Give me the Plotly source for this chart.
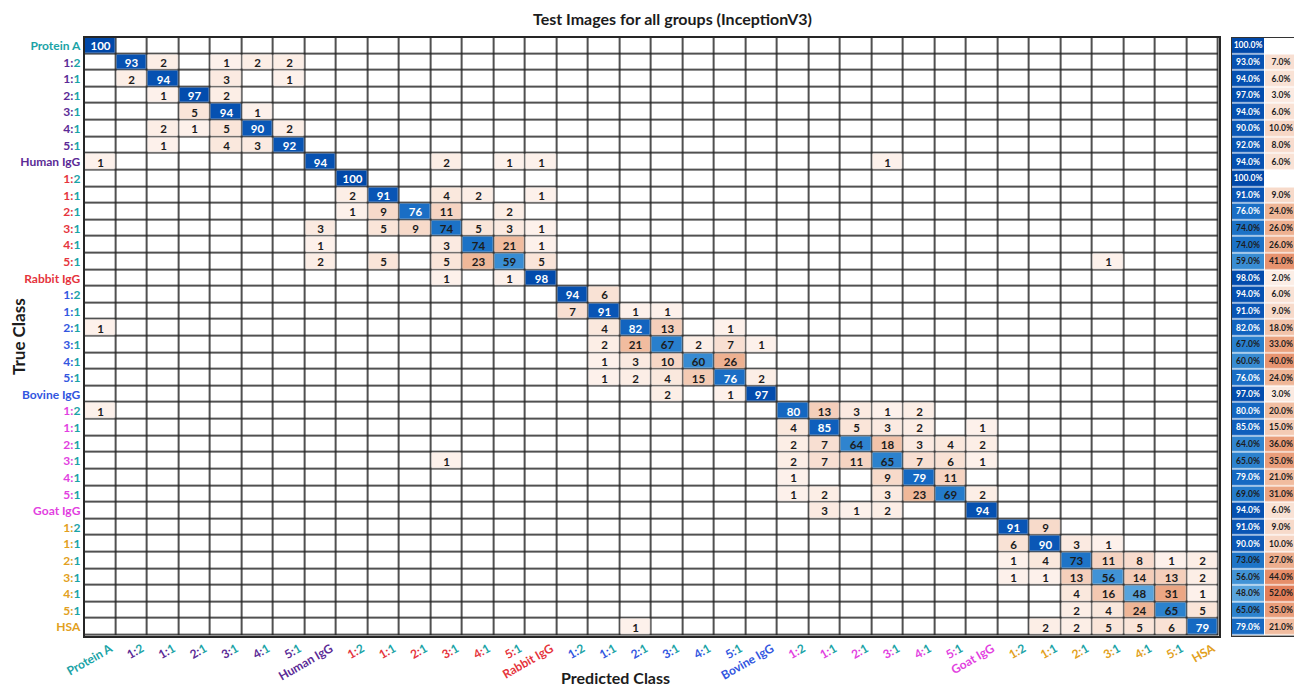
import numpy as np
import plotly.graph_objects as go

# ---------------- data ----------------
groups = ["Protein A", "Human IgG", "Rabbit IgG", "Bovine IgG", "Goat IgG", "HSA"]
group_colors = ["#1AA3A6", "#5B2A96", "#E5343C", "#3256E0", "#E23FE0", "#E2A020"]
ratios = ["1:2", "1:1", "2:1", "3:1", "4:1", "5:1"]

# confusion matrix rows (true class) as (predicted column, count) pairs
row_entries = [
    [(0, 100)],
    [(1, 93), (2, 2), (4, 1), (5, 2), (6, 2)],
    [(1, 2), (2, 94), (4, 3), (6, 1)],
    [(2, 1), (3, 97), (4, 2)],
    [(3, 5), (4, 94), (5, 1)],
    [(2, 2), (3, 1), (4, 5), (5, 90), (6, 2)],
    [(2, 1), (4, 4), (5, 3), (6, 92)],
    [(0, 1), (7, 94), (11, 2), (13, 1), (14, 1), (25, 1)],
    [(8, 100)],
    [(8, 2), (9, 91), (11, 4), (12, 2), (14, 1)],
    [(8, 1), (9, 9), (10, 76), (11, 11), (13, 2)],
    [(7, 3), (9, 5), (10, 9), (11, 74), (12, 5), (13, 3), (14, 1)],
    [(7, 1), (11, 3), (12, 74), (13, 21), (14, 1)],
    [(7, 2), (9, 5), (11, 5), (12, 23), (13, 59), (14, 5), (32, 1)],
    [(11, 1), (13, 1), (14, 98)],
    [(15, 94), (16, 6)],
    [(15, 7), (16, 91), (17, 1), (18, 1)],
    [(0, 1), (16, 4), (17, 82), (18, 13), (20, 1)],
    [(16, 2), (17, 21), (18, 67), (19, 2), (20, 7), (21, 1)],
    [(16, 1), (17, 3), (18, 10), (19, 60), (20, 26)],
    [(16, 1), (17, 2), (18, 4), (19, 15), (20, 76), (21, 2)],
    [(18, 2), (20, 1), (21, 97)],
    [(0, 1), (22, 80), (23, 13), (24, 3), (25, 1), (26, 2)],
    [(22, 4), (23, 85), (24, 5), (25, 3), (26, 2), (28, 1)],
    [(22, 2), (23, 7), (24, 64), (25, 18), (26, 3), (27, 4), (28, 2)],
    [(11, 1), (22, 2), (23, 7), (24, 11), (25, 65), (26, 7), (27, 6), (28, 1)],
    [(22, 1), (25, 9), (26, 79), (27, 11)],
    [(22, 1), (23, 2), (25, 3), (26, 23), (27, 69), (28, 2)],
    [(23, 3), (24, 1), (25, 2), (28, 94)],
    [(29, 91), (30, 9)],
    [(29, 6), (30, 90), (31, 3), (32, 1)],
    [(29, 1), (30, 4), (31, 73), (32, 11), (33, 8), (34, 1), (35, 2)],
    [(29, 1), (30, 1), (31, 13), (32, 56), (33, 14), (34, 13), (35, 2)],
    [(31, 4), (32, 16), (33, 48), (34, 31), (35, 1)],
    [(31, 2), (32, 4), (33, 24), (34, 65), (35, 5)],
    [(17, 1), (30, 2), (31, 2), (32, 5), (33, 5), (34, 6), (35, 79)],
]

recall_pct = [100, 93, 94, 97, 94, 90, 92, 94, 100, 91, 76, 74, 74, 59, 98, 94, 91, 82,
              67, 60, 76, 97, 80, 85, 64, 65, 79, 69, 94, 91, 90, 73, 56, 48, 65, 79]
error_pct = [None, 7, 6, 3, 6, 10, 8, 6, None, 9, 24, 26, 26, 41, 2, 6, 9, 18,
             33, 40, 24, 3, 20, 15, 36, 35, 21, 31, 6, 9, 10, 27, 44, 52, 35, 21]

# ---------------- labels ----------------
TEAL = group_colors[0]


def span(txt, col):
    return f'<span style="color:{col}">{txt}</span>'


labels = [span(groups[0], group_colors[0])]
for gi in range(1, len(groups)):
    gcol = group_colors[gi]
    for r in ratios:
        a, b = r.split(":")
        labels.append(span(a + ":", gcol) + span(b, TEAL))
    labels.append(span(groups[gi], gcol))

n = len(labels)
M = np.zeros((n, n))
for i, ents in enumerate(row_entries):
    for j, v in ents:
        M[i, j] = v

idx = list(range(n))
WHITE_TXT = 75

off = np.full((n, n), np.nan)
off_t = np.full((n, n), "", dtype=object)
dhi = np.full((n, n), np.nan)
dhi_t = np.full((n, n), "", dtype=object)
dlo = np.full((n, n), np.nan)
dlo_t = np.full((n, n), "", dtype=object)
for i in range(n):
    for j in range(n):
        v = M[i, j]
        if v <= 0:
            continue
        if i == j:
            if v >= WHITE_TXT:
                dhi[i, j] = v
                dhi_t[i, j] = f"{int(v)}"
            else:
                dlo[i, j] = v
                dlo_t[i, j] = f"{int(v)}"
        else:
            off[i, j] = v
            off_t[i, j] = f"{int(v)}"

blue_scale = [[0.0, "#74B6E6"], [0.133, "#58A3DC"], [0.3, "#3B8FD4"], [0.5, "#2279CA"],
              [0.667, "#1467C1"], [0.833, "#0A57B6"], [1.0, "#0048A9"]]
orange_scale = [[0.0, "#FEF5F0"], [0.05, "#FBEBE2"], [0.2, "#F6D4C2"], [0.4, "#F0BA9C"],
                [0.6, "#EAA27F"], [0.8, "#E68E69"], [1.0, "#E07A55"]]

FONT = "Lato, 'Open Sans', sans-serif"
DARK = "#1c1c1c"
GAP = 1.6
CELL_FS = 11.5

fig = go.Figure()

# base white grid (gaps show the dark plot background -> grid lines)
fig.add_trace(go.Heatmap(x=idx, y=idx, z=np.zeros((n, n)), colorscale=[[0, "white"], [1, "white"]],
                         showscale=False, xgap=GAP, ygap=GAP, hoverinfo="skip"))
fig.add_trace(go.Heatmap(x=idx, y=idx, z=off, text=off_t, texttemplate="<b>%{text}</b>",
                         textfont=dict(family=FONT, size=CELL_FS, color=DARK),
                         colorscale=orange_scale, zmin=0, zmax=55, showscale=False,
                         xgap=GAP, ygap=GAP, hoverongaps=False))
for zz, tt, col in [(dhi, dhi_t, "white"), (dlo, dlo_t, DARK)]:
    fig.add_trace(go.Heatmap(x=idx, y=idx, z=zz, text=tt, texttemplate="<b>%{text}</b>",
                             textfont=dict(family=FONT, size=CELL_FS, color=col),
                             colorscale=blue_scale, zmin=40, zmax=100, showscale=False,
                             xgap=GAP, ygap=GAP, hoverongaps=False))

# right panel: recall and error percentages
rz_hi = np.full((n, 2), np.nan)
rt_hi = np.full((n, 2), "", dtype=object)
rz_lo = np.full((n, 2), np.nan)
rt_lo = np.full((n, 2), "", dtype=object)
ez = np.full((n, 2), np.nan)
et = np.full((n, 2), "", dtype=object)
for i in range(n):
    r = recall_pct[i]
    if r >= WHITE_TXT:
        rz_hi[i, 0] = r
        rt_hi[i, 0] = f"{r:.1f}%"
    else:
        rz_lo[i, 0] = r
        rt_lo[i, 0] = f"{r:.1f}%"
    e = error_pct[i]
    if e is not None:
        ez[i, 1] = e
        et[i, 1] = f"{e:.1f}%"

fig.add_trace(go.Heatmap(x=[0, 1], y=idx, z=np.zeros((n, 2)), colorscale=[[0, "white"], [1, "white"]],
                         showscale=False, xaxis="x2", yaxis="y2", hoverinfo="skip"))
for zz, tt, col in [(rz_hi, rt_hi, "white"), (rz_lo, rt_lo, DARK)]:
    fig.add_trace(go.Heatmap(x=[0, 1], y=idx, z=zz, text=tt, texttemplate="<b>%{text}</b>",
                             textfont=dict(family=FONT, size=8.5, color=col),
                             colorscale=blue_scale, zmin=40, zmax=100, showscale=False,
                             xgap=1, ygap=1.2, xaxis="x2", yaxis="y2", hoverongaps=False))
fig.add_trace(go.Heatmap(x=[0, 1], y=idx, z=ez, text=et, texttemplate="<b>%{text}</b>",
                         textfont=dict(family=FONT, size=8.5, color=DARK),
                         colorscale=orange_scale, zmin=0, zmax=55, showscale=False,
                         xgap=1, ygap=1.2, xaxis="x2", yaxis="y2", hoverongaps=False))

W, H = 1294, 688
x0, x1 = 84.5, 1218.5
y0, y1 = 37.5, 635.5
ydom = [1 - y1 / H, 1 - y0 / H]

fig.update_layout(
    width=W, height=H,
    margin=dict(l=0, r=0, t=0, b=0),
    paper_bgcolor="white",
    plot_bgcolor="#262626",
    font=dict(family=FONT, color=DARK),
    xaxis=dict(domain=[x0 / W, x1 / W], range=[-0.5, n - 0.5], tickmode="array",
               tickvals=idx, ticktext=labels, tickangle=-30, showgrid=False, zeroline=False,
               showline=True, mirror=True, linecolor="#262626", linewidth=1.5, ticks="",
               tickfont=dict(family=FONT, size=12, weight="bold"), ticklabelshift=10,
               automargin=False, fixedrange=True),
    yaxis=dict(domain=ydom, range=[n - 0.5, -0.5], tickmode="array", tickvals=idx,
               ticktext=labels, showgrid=False, zeroline=False, showline=True, mirror=True,
               linecolor="#262626", linewidth=1.5, ticks="",
               tickfont=dict(family=FONT, size=12, weight="bold"), automargin=False,
               fixedrange=True),
    xaxis2=dict(domain=[1232 / W, 1.0], range=[-0.5, 1.38], anchor="y2", showticklabels=False,
                showgrid=False, zeroline=False, showline=True, mirror=True, linecolor="#333333",
                linewidth=1, ticks="", fixedrange=True),
    yaxis2=dict(domain=ydom, range=[n - 0.5, -0.5], anchor="x2", showticklabels=False,
                showgrid=False, zeroline=False, showline=True, mirror=True, linecolor="#333333",
                linewidth=1, ticks="", fixedrange=True),
    annotations=[
        dict(text="<b>Test Images for all groups (InceptionV3)</b>", x=672 / W, y=1 - 18 / H,
             xref="paper", yref="paper", showarrow=False, xanchor="center", yanchor="middle",
             font=dict(family=FONT, size=16, color=DARK)),
        dict(text="<b>True Class</b>", x=18 / W, y=1 - 337 / H, xref="paper", yref="paper",
             showarrow=False, textangle=-90, xanchor="center", yanchor="middle",
             font=dict(family=FONT, size=17, color=DARK)),
        dict(text="<b>Predicted Class</b>", x=615 / W, y=1 - 677 / H, xref="paper",
             yref="paper", showarrow=False, xanchor="center", yanchor="middle",
             font=dict(family=FONT, size=16, color=DARK)),
    ],
)

fig.write_html("out.html", config={"displayModeBar": False},
               post_script="document.body.style.margin='0px';")
